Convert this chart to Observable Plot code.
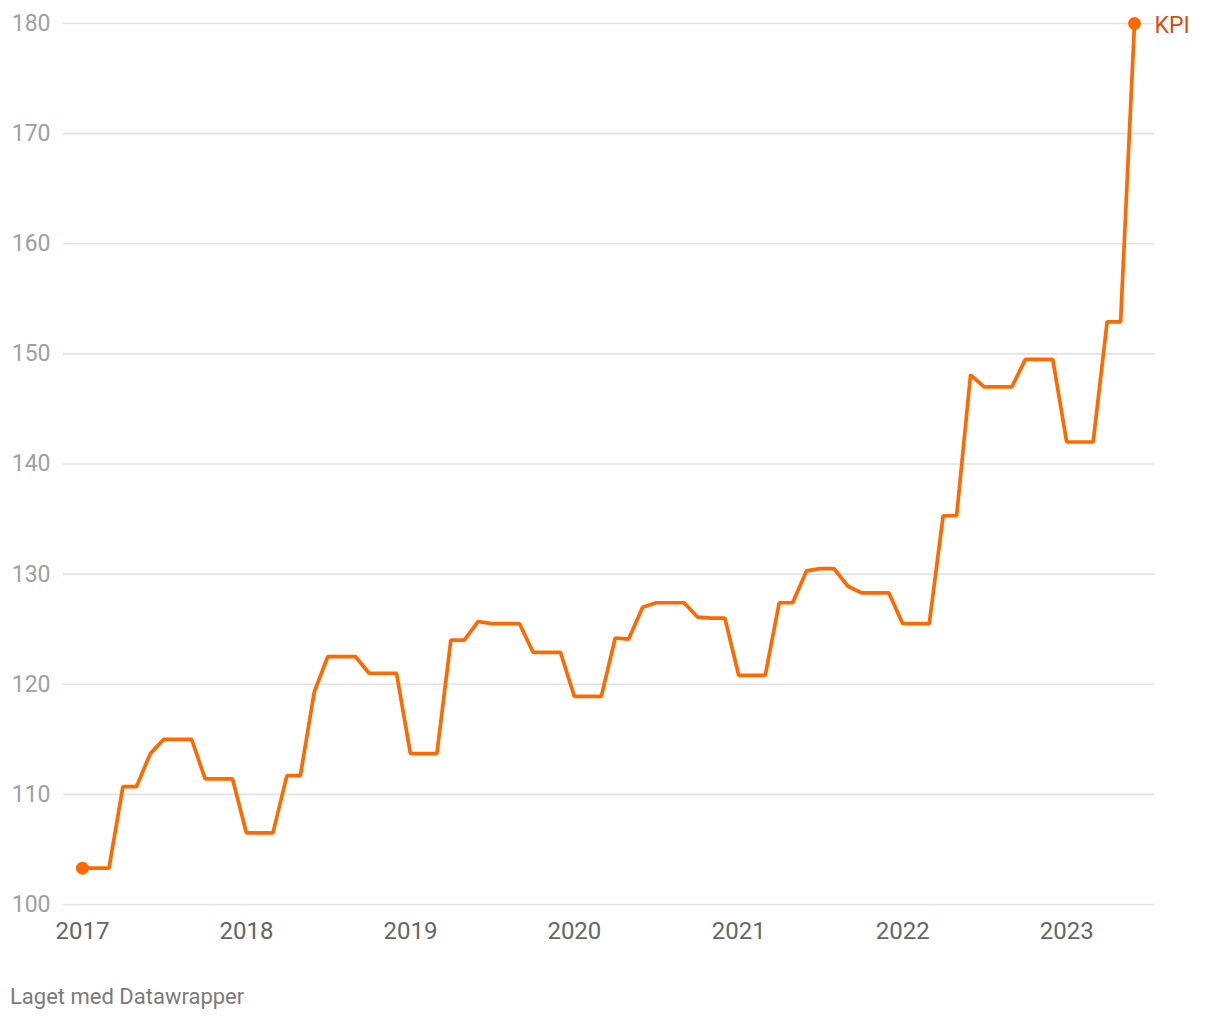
<!DOCTYPE html>
<html>
<head>
<meta charset="utf-8">
<script src="https://cdn.jsdelivr.net/npm/d3@7"></script>
<script src="https://cdn.jsdelivr.net/npm/@observablehq/plot@0.6"></script>
<style>
  html, body { margin: 0; padding: 0; background: #fff; }
  body { width: 1220px; height: 1020px; position: relative; font-family: Roboto, "Noto Sans", sans-serif; }
  #chart { position: absolute; left: 0; top: 0; }
  #caption { position: absolute; left: 10px; top: 986px; font-size: 22px; line-height: 1; color: #7a7a7a; font-family: Roboto, sans-serif; }
</style>
</head>
<body>
<div id="chart"></div>
<div id="caption">Laget med Datawrapper</div>
<script>
// Monthly KPI values, starting January 2017
const seriesName = "KPI";
const firstMonth = "2017-01-01";
const kpi2017 = [103.3, 103.3, 103.3, 110.7, 110.7, 113.7, 115.0, 115.0, 115.0, 111.4, 111.4, 111.4];
const kpi2018 = [106.5, 106.5, 106.5, 111.7, 111.7, 119.3, 122.5, 122.5, 122.5, 121.0, 121.0, 121.0];
const kpi2019 = [113.7, 113.7, 113.7, 124.0, 124.0, 125.7, 125.5, 125.5, 125.5, 122.9, 122.9, 122.9];
const kpi2020 = [118.9, 118.9, 118.9, 124.2, 124.1, 127.0, 127.4, 127.4, 127.4, 126.1, 126.0, 126.0];
const kpi2021 = [120.8, 120.8, 120.8, 127.4, 127.4, 130.3, 130.5, 130.5, 128.9, 128.3, 128.3, 128.3];
const kpi2022 = [125.5, 125.5, 125.5, 135.3, 135.3, 148.1, 147.0, 147.0, 147.0, 149.5, 149.5, 149.5];
const kpi2023 = [142.0, 142.0, 142.0, 152.9, 152.9, 180.0];
const xTickYears = ["2017", "2018", "2019", "2020", "2021", "2022", "2023"];
const yTicks = [100, 110, 120, 130, 140, 150, 160, 170, 180];

const values = [...kpi2017, ...kpi2018, ...kpi2019, ...kpi2020, ...kpi2021, ...kpi2022, ...kpi2023];
const start = new Date(firstMonth + "T00:00:00Z");
const data = values.map((v, i) => ({ date: d3.utcMonth.offset(start, i), value: v }));
const endpoints = [data[0], data[data.length - 1]];
const xTicks = xTickYears.map(y => new Date(y + "-01-01T00:00:00Z"));

const lineColor = "#ff6a00";

const chart = Plot.plot({
  width: 1220,
  height: 960,
  marginLeft: 82,
  marginRight: 86,
  marginTop: 23,
  marginBottom: 56,
  style: { fontFamily: "Roboto, sans-serif", background: "#fff", overflow: "visible" },
  x: { type: "utc", domain: [data[0].date, data[data.length - 1].date] },
  y: { domain: [100, 180] },
  marks: [
    Plot.ruleY(yTicks, { stroke: "#e2e2e2", strokeWidth: 1.6, insetLeft: -19, insetRight: -20 }),
    Plot.axisY({ ticks: yTicks, tickSize: 0, tickPadding: 32, fontSize: 23, color: "#a0a0a0", label: null }),
    Plot.axisX({ ticks: xTicks, tickFormat: "%Y", tickSize: 0, tickPadding: 17, fontSize: 24, color: "#666", label: null }),
    Plot.line(data, { x: "date", y: "value", stroke: lineColor, strokeWidth: 3.7, strokeLinejoin: "miter", curve: "linear" }),
    Plot.dot(endpoints, { x: "date", y: "value", r: 6.5, fill: lineColor, stroke: "none" }),
    Plot.text([endpoints[1]], { x: "date", y: "value", text: () => seriesName, dx: 20, dy: 2, textAnchor: "start", fontSize: 23, fill: "#d2500f" })
  ]
});
document.getElementById("chart").appendChild(chart);
</script>
</body>
</html>
